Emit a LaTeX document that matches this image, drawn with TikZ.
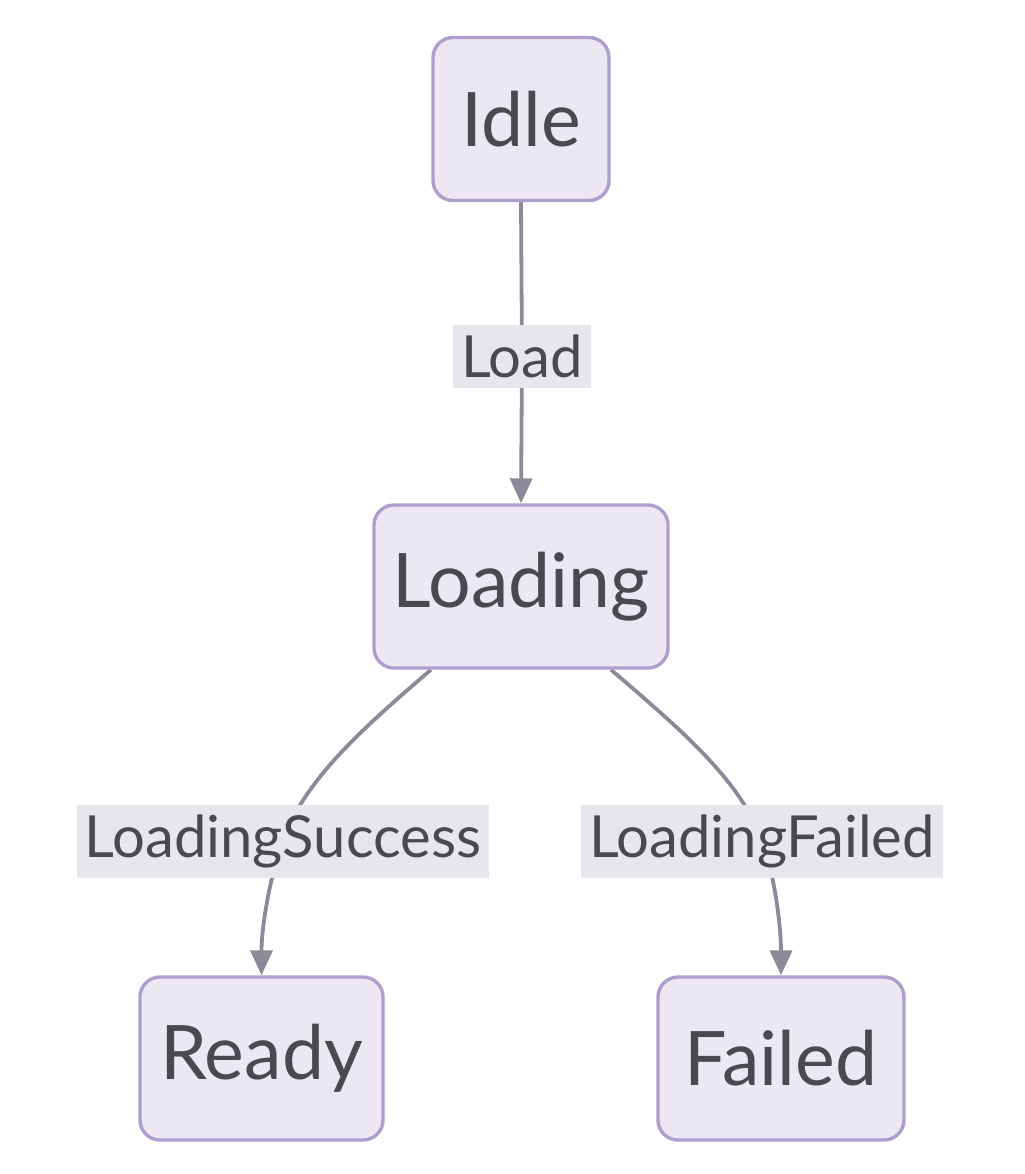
\documentclass[tikz,border=0pt]{standalone}
\usepackage{fontspec}
\setmainfont{Lato}
\usetikzlibrary{arrows.meta,calc,backgrounds}

\definecolor{stateFill}{RGB}{235,231,243}
\definecolor{stateDraw}{RGB}{174,158,205}
\definecolor{edgeDraw}{RGB}{142,137,152}
\definecolor{labelFill}{RGB}{232,230,237}
\definecolor{textCol}{RGB}{74,74,78}

\begin{document}
\begin{tikzpicture}[x=0.5pt, y=-0.5pt,
		state_style/.style={rectangle,rounded corners=10pt,draw=stateDraw,line width=1.7pt,fill=stateFill,
			text=textCol,minimum height=81.5pt,inner sep=0pt,font=\fontsize{37.6}{45}\selectfont},
		label_style/.style={rectangle,fill=labelFill,text=textCol,inner xsep=4pt,inner ysep=5pt,
			font=\fontsize{29}{35}\selectfont},
		edge_style/.style={draw=edgeDraw,line width=1.9pt,-{Triangle[length=12.5pt,width=11pt]}}]
	\useasboundingbox (0,0) rectangle (1024,1174);

	\node[state_style,minimum width=88pt] (idle) at (521,119) {Idle};
	\node[state_style,minimum width=147pt] (loading) at (521,586.5) {Loading};
	\node[state_style,minimum width=121.5pt] (ready) at (261.5,1058.5) {Ready};
	\node[state_style,minimum width=123pt] (failed) at (781,1058.5) {Failed};

	\node[label_style] (l_load) at (522,356.5) {Load};
	\node[label_style] (l_success) at (283,841.5) {LoadingSuccess};
	\node[label_style] (l_failed) at (762,841.5) {LoadingFailed};

	\begin{pgfonlayer}{background}
		\draw[edge_style] (idle.south) -- (l_load.center) -- (loading.north);
		\draw[edge_style] ($(loading.south)+(-90,0)$) .. controls +(-70,60) and +(20,-60) .. (l_success.center)
			.. controls +(-12,30) and +(0,-50) .. (ready.north);
		\draw[edge_style] ($(loading.south)+(90,0)$) .. controls +(70,60) and +(-20,-60) .. (l_failed.center)
			.. controls +(12,30) and +(0,-50) .. (failed.north);
	\end{pgfonlayer}
\end{tikzpicture}
\end{document}
